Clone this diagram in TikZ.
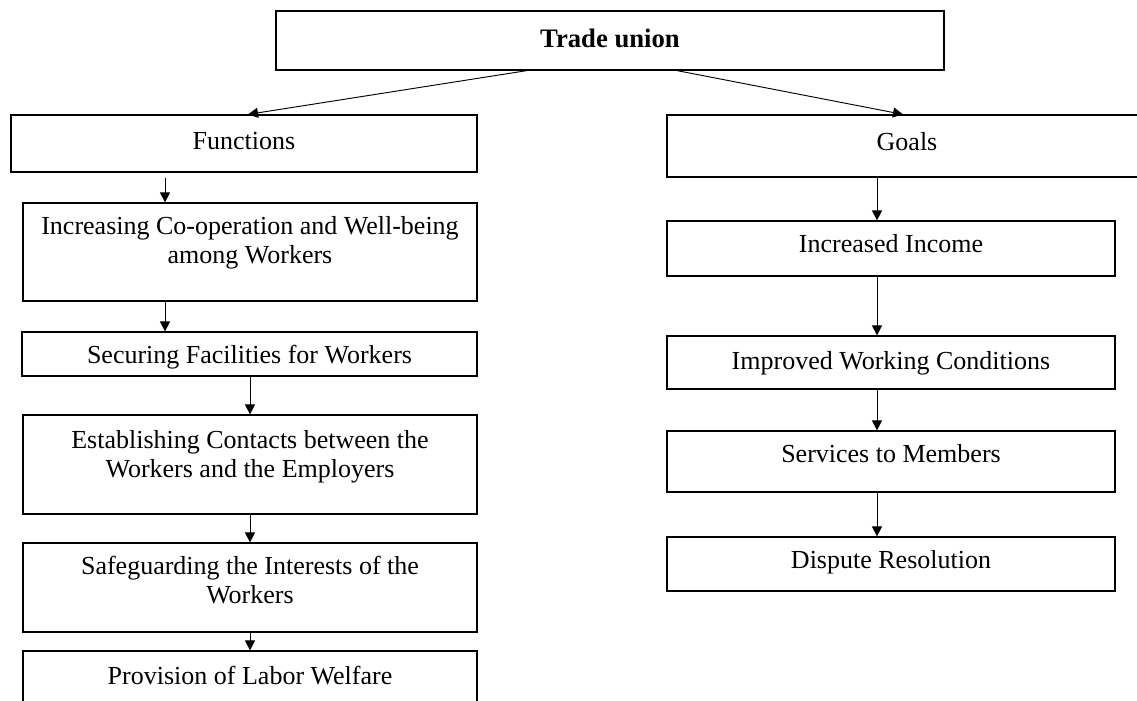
\documentclass[tikz,border=0pt]{standalone}
\usepackage{fontspec}
\setmainfont{Liberation Serif}
\usetikzlibrary{arrows.meta}

\tikzset{
    box/.style={draw, line width=0.9pt, inner sep=0pt},
    lbl/.style={anchor=north, inner sep=0pt, align=center, yshift=-10pt,
        font=\fontsize{19.5}{21.75}\selectfont},
    arr/.style={line width=0.7pt, -{Triangle[length=7.5pt,width=7.5pt]}}
}

\begin{document}
\begin{tikzpicture}[x=0.75pt, y=-0.75pt]
        \useasboundingbox (0,0) rectangle (1137,700);

        % top box
        \node[box, minimum width=501pt, minimum height=44.25pt,
            label={[lbl, yshift=-3.5pt, font=\fontsize{20}{24}\selectfont\bfseries]north:Trade union}]
            (tu) at (610,40.5) {};

        % functions column
        \node[box, minimum width=349.5pt, minimum height=42.75pt,
            label={[lbl, yshift=-3.5pt]north:Functions}] (fun) at (244,143.5) {};
        \node[box, minimum width=340.5pt, minimum height=73.5pt,
            label={[lbl]north:Increasing Co-operation and Well-being\\among Workers}] (coop) at (250,252) {};
        \node[box, minimum width=341.25pt, minimum height=33pt,
            label={[lbl]north:Securing Facilities for Workers}] (facil) at (249.5,354) {};
        \node[box, minimum width=340.5pt, minimum height=74.25pt,
            label={[lbl, yshift=-1.5pt]north:Establishing Contacts between the\\Workers and the Employers}] (contact) at (250,464.5) {};
        \node[box, minimum width=340.5pt, minimum height=66.75pt,
            label={[lbl]north:Safeguarding the Interests of the\\Workers}] (safe) at (250,587.5) {};
        \node[box, minimum width=340.5pt, minimum height=45pt,
            label={[lbl, yshift=-1.5pt]north:Provision of Labor Welfare}] (welfare) at (250,681) {};

        % goals column
        \node[box, minimum width=360pt, minimum height=46.5pt,
            label={[lbl, yshift=-3.5pt]north:Goals}] (goals) at (907,146) {};
        \node[box, minimum width=336pt, minimum height=41.25pt,
            label={[lbl]north:Increased Income}] (income) at (891,248.5) {};
        \node[box, minimum width=336pt, minimum height=39.75pt,
            label={[lbl, yshift=-1.5pt]north:Improved Working Conditions}] (cond) at (891,362.5) {};
        \node[box, minimum width=336pt, minimum height=45.75pt,
            label={[lbl]north:Services to Members}] (serv) at (891,461.5) {};
        \node[box, minimum width=336pt, minimum height=40.5pt,
            label={[lbl]north:Dispute Resolution}] (disp) at (891,564) {};

        % arrow columns
        \coordinate (ta) at (527,0);
        \coordinate (tb) at (677,0);
        \coordinate (fa) at (248,0);
        \coordinate (ga) at (903,0);
        \coordinate (xl) at (165,0);
        \coordinate (xm) at (250,0);
        \coordinate (xr) at (877,0);

        \draw[arr] (tu.south -| ta) -- (fun.north -| fa);
        \draw[arr] (tu.south -| tb) -- (goals.north -| ga);

        \draw[arr, shorten <=3.75pt] (fun.south -| xl) -- (coop.north -| xl);
        \draw[arr] (coop.south -| xl) -- (facil.north -| xl);
        \draw[arr] (facil.south -| xm) -- (contact.north -| xm);
        \draw[arr] (contact.south -| xm) -- (safe.north -| xm);
        \draw[arr] (safe.south -| xm) -- (welfare.north -| xm);

        \draw[arr] (goals.south -| xr) -- (income.north -| xr);
        \draw[arr] (income.south -| xr) -- (cond.north -| xr);
        \draw[arr] (cond.south -| xr) -- (serv.north -| xr);
        \draw[arr] (serv.south -| xr) -- (disp.north -| xr);
    \end{tikzpicture}
\end{document}
